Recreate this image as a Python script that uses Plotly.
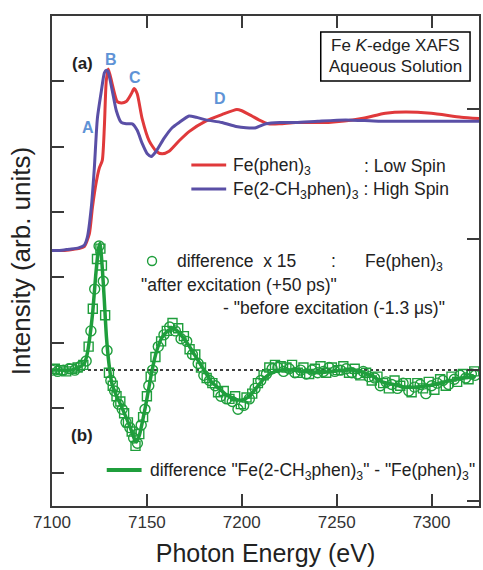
import plotly.graph_objects as go

# ---------------- data ----------------
# Fe K-edge XAFS, normalized absorbance (0 = pre-edge, 1 = edge jump)
E_low = [7100, 7104, 7109, 7114, 7117, 7119.7, 7121.3, 7123.4, 7124.9, 7126.5, 7127.6, 7128.6,
         7129.7, 7131.8, 7134.4, 7136.5, 7139.1, 7141.8, 7143.3, 7144.9, 7147.5, 7151.2, 7154.9,
         7158, 7161.7, 7167, 7172.2, 7181, 7189.5, 7197.4, 7200, 7205.3, 7209, 7214, 7220,
         7228.4, 7245.7, 7263.1, 7275.7, 7286.2, 7299.8, 7315.6, 7325]
mu_low = [0.0, 0.0, 0.005, 0.015, 0.03, 0.13, 0.33, 0.53, 0.63, 0.69, 0.95, 1.30,
          1.39, 1.27, 1.14, 1.13, 1.14, 1.20, 1.24, 1.20, 1.01, 0.84, 0.76,
          0.74, 0.76, 0.84, 0.91, 0.99, 1.04, 1.08, 1.07, 1.03, 1.00, 0.97, 0.97,
          0.98, 0.98, 1.01, 1.05, 1.06, 1.05, 1.02, 1.01]

E_high = [7100, 7104, 7109, 7114, 7117, 7118.6, 7120.7, 7122.3, 7123.9, 7126, 7127.6, 7128.6,
          7129.5, 7131.8, 7133.9, 7136.5, 7139.1, 7141, 7142.3, 7144.9, 7147.5, 7150.2, 7152.3,
          7154.9, 7159.1, 7163.3, 7167, 7172.2, 7176, 7181.1, 7189.5, 7197, 7202.2, 7207.4,
          7212.7, 7220, 7228.4, 7240, 7254.7, 7272, 7289, 7307, 7325]
mu_high = [0.0, 0.0, 0.01, 0.02, 0.04, 0.10, 0.33, 0.63, 1.01, 1.22, 1.36, 1.38,
           1.37, 1.22, 1.07, 0.98, 0.97, 0.97, 0.97, 0.92, 0.82, 0.74, 0.72,
           0.76, 0.86, 0.94, 0.98, 1.03, 1.02, 1.00, 0.98, 0.95, 0.94, 0.94,
           0.97, 0.98, 0.98, 0.99, 1.00, 0.99, 0.99, 0.99, 0.99]

# difference "Fe(2-CH3phen)3" - "Fe(phen)3" (difference-axis units)
E_diff = [7100, 7104, 7110, 7114, 7117, 7118.5, 7120, 7121.5, 7123, 7124.5, 7125.3, 7126.5,
          7127.5, 7128.7, 7130, 7131.5, 7133.5, 7136, 7139, 7141.5, 7143.5, 7144.5, 7146,
          7148, 7150, 7152.5, 7155, 7158, 7161, 7163.5, 7166, 7169, 7172, 7175, 7178, 7181,
          7184, 7188, 7192, 7196, 7200, 7204, 7208, 7212, 7216, 7220, 7226, 7232, 7240,
          7248, 7256, 7262, 7268, 7274, 7280, 7286, 7292, 7298, 7304, 7310, 7316, 7323]
d_diff = [0.0, 0.0, 0.0, 0.02, 0.05, 0.12, 0.26, 0.45, 0.72, 0.93, 0.97, 0.78,
          0.55, 0.25, 0.05, -0.10, -0.18, -0.26, -0.36, -0.45, -0.53, -0.55, -0.50,
          -0.37, -0.22, -0.02, 0.14, 0.25, 0.30, 0.32, 0.30, 0.25, 0.19, 0.12, 0.05, -0.02,
          -0.09, -0.14, -0.19, -0.22, -0.23, -0.20, -0.13, -0.06, -0.02, 0.0, 0.0, -0.01, -0.02,
          -0.01, 0.0, -0.01, -0.04, -0.09, -0.11, -0.13, -0.13, -0.12, -0.10, -0.08, -0.06, -0.05]

# time-resolved difference x 15 (circles) : after (+50 ps) - before (-1.3 us)
E_circ = [7100, 7103, 7106, 7109, 7112, 7115, 7118, 7120.5, 7122.5, 7124.8, 7127, 7129, 7131,
          7133, 7135, 7137, 7139, 7141, 7143, 7145, 7147, 7149, 7151, 7153, 7156, 7159, 7162,
          7165, 7168, 7171, 7174, 7177, 7180, 7183, 7186, 7189, 7192, 7195, 7198, 7201, 7204,
          7207, 7210, 7213, 7216, 7219, 7222, 7225, 7228, 7231, 7234, 7237, 7240, 7243, 7246,
          7249, 7252, 7255, 7258, 7261, 7264, 7267, 7270, 7273, 7276, 7279, 7282, 7285, 7288,
          7291, 7294, 7297, 7300, 7303, 7306, 7309, 7312, 7315, 7318, 7321, 7323]
d_circ = [0.0, -0.01, 0.0, 0.01, 0.0, 0.03, 0.07, 0.30, 0.62, 0.95, 0.68, 0.15, -0.08,
          -0.16, -0.26, -0.30, -0.40, -0.44, -0.52, -0.56, -0.42, -0.30, -0.12, 0.00, 0.18, 0.27, 0.33,
          0.30, 0.24, 0.22, 0.12, 0.05, -0.04, -0.08, -0.12, -0.20, -0.22, -0.24, -0.30, -0.27, -0.22,
          -0.14, -0.08, -0.03, 0.01, 0.02, -0.01, 0.01, -0.02, 0.00, -0.03, 0.00, -0.02, -0.01, 0.02,
          -0.01, 0.00, 0.01, -0.02, -0.03, -0.01, -0.05, -0.06, -0.12, -0.09, -0.11, -0.14, -0.10, -0.16,
          -0.13, -0.11, -0.18, -0.12, -0.10, -0.08, -0.11, -0.07, -0.04, -0.06, -0.03, -0.04]

# second scan (squares)
E_sq = [7101.5, 7104.5, 7107.5, 7110.5, 7113.5, 7116.5, 7119.3, 7121.5, 7123.7, 7125.5, 7126.3,
        7128, 7130, 7132, 7134, 7136, 7138, 7140, 7142, 7144, 7146, 7148, 7150, 7152, 7154.5,
        7157.5, 7160.5, 7163.5, 7166.5, 7169.5, 7172.5, 7175.5, 7178.5, 7181.5, 7184.5, 7187.5,
        7190.5, 7193.5, 7196.5, 7199.5, 7202.5, 7205.5, 7208.5, 7211.5, 7214.5, 7217.5, 7220.5,
        7223.5, 7226.5, 7229.5, 7232.5, 7235.5, 7238.5, 7241.5, 7244.5, 7247.5, 7250.5, 7253.5,
        7256.5, 7259.5, 7262.5, 7265.5, 7268.5, 7271.5, 7274.5, 7277.5, 7280.5, 7283.5, 7286.5,
        7289.5, 7292.5, 7295.5, 7298.5, 7301.5, 7304.5, 7307.5, 7310.5, 7313.5, 7316.5, 7319.5, 7322.5]
d_sq = [0.01, 0.0, -0.01, 0.01, 0.02, 0.04, 0.18, 0.47, 0.85, 0.93, 0.80,
        0.42, -0.02, -0.12, -0.20, -0.24, -0.33, -0.40, -0.47, -0.58, -0.49, -0.36, -0.20, -0.05, 0.10,
        0.22, 0.30, 0.36, 0.32, 0.26, 0.16, 0.12, 0.02, -0.06, -0.10, -0.17,
        -0.16, -0.22, -0.20, -0.26, -0.21, -0.18, -0.10, -0.04, 0.02, 0.04, 0.03,
        0.02, 0.04, -0.02, 0.02, -0.03, 0.01, 0.03, -0.02, 0.02, 0.00, 0.03,
        -0.02, 0.01, -0.04, -0.02, -0.08, -0.05, -0.10, -0.14, -0.08, -0.12, -0.10,
        -0.17, -0.10, -0.14, -0.09, -0.15, -0.07, -0.12, -0.05, -0.09, -0.03, -0.07, -0.01]

x_ticks = [7100, 7150, 7200, 7250, 7300]

# ---------------- styling / layout constants ----------------
XAFS_OFFSET, XAFS_SCALE = 3.41, 2.0     # placement of panel (a) on the intensity axis
Y_RANGE = [-0.5, 7.0]
DIFF_ZERO, DIFF_SCALE = 1.58, 2.0       # placement of panel (b)
Y2_RANGE = [(Y_RANGE[0] - DIFF_ZERO) / DIFF_SCALE, (Y_RANGE[1] - DIFF_ZERO) / DIFF_SCALE]

RED = "#e0393b"
BLUE = "#5a4fa6"
GREEN = "#1f9e3c"
LBLUE = "#5f93d6"
FONT = "Liberation Sans, Arial, sans-serif"
W, H = 483, 570
ML, MR, MT, MB = 52, 2, 16, 64
TXT = 17.5

def px(x):
    return (x - ML) / (W - ML - MR)

def py(y):
    return (H - MB - y) / (H - MT - MB)

fig = go.Figure()

fig.add_trace(go.Scatter(x=E_low, y=[XAFS_OFFSET + XAFS_SCALE * m for m in mu_low],
                         mode="lines", line=dict(color=RED, width=3, shape="spline", smoothing=0.6),
                         showlegend=False))
fig.add_trace(go.Scatter(x=E_high, y=[XAFS_OFFSET + XAFS_SCALE * m for m in mu_high],
                         mode="lines", line=dict(color=BLUE, width=3, shape="spline", smoothing=0.6),
                         showlegend=False))

fig.add_trace(go.Scatter(x=[7100, 7325], y=[0, 0], yaxis="y2", mode="lines",
                         line=dict(color="black", width=1.5, dash="dot"), showlegend=False))
fig.add_trace(go.Scatter(x=E_sq, y=d_sq, yaxis="y2", mode="markers",
                         marker=dict(symbol="square-open", size=9, color=GREEN, line=dict(width=1.4)),
                         showlegend=False))
fig.add_trace(go.Scatter(x=E_circ, y=d_circ, yaxis="y2", mode="markers",
                         marker=dict(symbol="circle-open", size=10, color=GREEN, line=dict(width=1.4)),
                         showlegend=False))
fig.add_trace(go.Scatter(x=E_diff, y=d_diff, yaxis="y2", mode="lines",
                         line=dict(color=GREEN, width=3.5, shape="spline", smoothing=0.6),
                         showlegend=False))

axis_common = dict(showgrid=False, zeroline=False, showline=True, linecolor="#3a3a3a", linewidth=2,
                   ticks="inside", ticklen=12, tickwidth=1.5, tickcolor="#3a3a3a")

fig.update_layout(
    width=W, height=H, margin=dict(l=ML, r=MR, t=MT, b=MB),
    paper_bgcolor="white", plot_bgcolor="white",
    font=dict(family=FONT, color="#222"),
    xaxis=dict(range=[7100, 7325], tickvals=x_ticks, ticktext=[str(v) for v in x_ticks],
               mirror="ticks", tickfont=dict(size=17, color="#333"),
               title=dict(text="Photon Energy (eV)", font=dict(size=25, color="#222"), standoff=13),
               **axis_common),
    yaxis=dict(range=Y_RANGE, tickvals=[0, 1, 2, 3, 4, 5, 6, 7], showticklabels=False,
               mirror=True,
               title=dict(text="Intensity (arb. units)", font=dict(size=26, color="#222"), standoff=12),
               **axis_common),
    yaxis2=dict(range=Y2_RANGE, overlaying="y", side="right", tickvals=[-1, 0, 1, 2],
                showticklabels=False, showgrid=False, zeroline=False, showline=False,
                ticks="inside", ticklen=12, tickwidth=1.5, tickcolor="#3a3a3a"),
)

shapes = []
annots = []

def text(x, y, s, size=TXT, anchor="left", color="#222", bold=False):
    annots.append(dict(x=px(x), y=py(y), xref="paper", yref="paper", text=("<b>%s</b>" % s) if bold else s,
                       showarrow=False, xanchor=anchor, yanchor="middle",
                       font=dict(size=size, color=color, family=FONT)))

# info box
shapes.append(dict(type="rect", xref="paper", yref="paper", x0=px(322), x1=px(472), y0=py(81), y1=py(32),
                   line=dict(color="black", width=1.5), fillcolor="white"))
text(397, 46, "Fe <i>K</i>-edge XAFS", size=17, anchor="center")
text(397, 66, "Aqueous Solution", size=17, anchor="center")

# panel labels
text(83, 63, "(a)", size=17, anchor="center", bold=True)
text(82, 435, "(b)", size=17, anchor="center", bold=True)

# feature letters
text(88, 128, "A", size=16, anchor="center", color=LBLUE, bold=True)
text(111, 59, "B", size=16, anchor="center", color=LBLUE, bold=True)
text(135, 77, "C", size=16, anchor="center", color=LBLUE, bold=True)
text(221, 98, "D", size=16, anchor="center", color=LBLUE, bold=True)

# legend (a)
shapes.append(dict(type="line", xref="paper", yref="paper", x0=px(192), x1=px(227), y0=py(165), y1=py(165),
                   line=dict(color=RED, width=3)))
text(232, 166, "Fe(phen)<sub>3</sub>")
text(363, 166, ": Low Spin")
shapes.append(dict(type="line", xref="paper", yref="paper", x0=px(192), x1=px(227), y0=py(189), y1=py(189),
                   line=dict(color=BLUE, width=3)))
text(232, 190, "Fe(2-CH<sub>3</sub>phen)<sub>3</sub> : High Spin")

# legend (b) – circles
shapes.append(dict(type="circle", xref="paper", yref="paper", x0=px(148), x1=px(157), y0=py(265.5), y1=py(256.5),
                   line=dict(color=GREEN, width=1.4)))
text(176, 261, "difference  x 15")
text(330, 261, ":")
text(364, 262, "Fe(phen)<sub>3</sub>")
text(139, 285, "\"after excitation (+50 ps)\"")
text(222, 308, "- \"before excitation (-1.3 \u03bcs)\"")

# legend (b) – line
shapes.append(dict(type="line", xref="paper", yref="paper", x0=px(107), x1=px(142), y0=py(470), y1=py(470),
                   line=dict(color=GREEN, width=4)))
text(148, 471, "difference \"Fe(2-CH<sub>3</sub>phen)<sub>3</sub>\" - \"Fe(phen)<sub>3</sub>\"")

fig.update_layout(shapes=shapes, annotations=annots)

fig.write_html("out.html")
